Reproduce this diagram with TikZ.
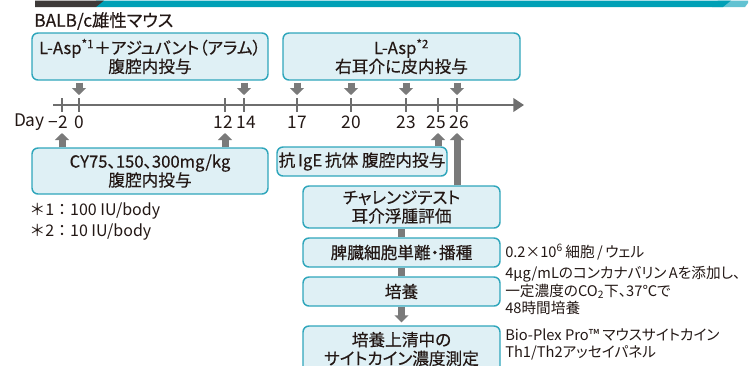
\documentclass[tikz,border=0pt]{standalone}
\usepackage{fontspec}
\setmainfont{Noto Sans CJK JP}[RawFeature=+palt]
\newfontfamily\boxfont{Noto Sans CJK JP}[RawFeature=+palt, FakeBold=0.35]
\newfontfamily\plainfont{Noto Sans CJK JP}
\usetikzlibrary{arrows.meta,calc}
\definecolor{boxfill}{HTML}{DFF0F5}
\definecolor{boxline}{HTML}{2FA6BB}
\definecolor{arr}{HTML}{7A7A7A}
\definecolor{tl}{HTML}{6E6E6E}
\definecolor{txt}{HTML}{231815}
\definecolor{hddark}{HTML}{3E3A39}
\definecolor{hdteal}{HTML}{00A0B6}
\definecolor{hdlight}{HTML}{62C2D2}
\begin{document}
\begin{tikzpicture}[x=0.75pt,y=-0.75pt,
  box/.style={draw=boxline, fill=boxfill, line width=1.1pt, rounded corners=4.5pt, inner sep=0pt, align=center, font=\boxfont\fontsize{12.5}{14}\selectfont, text=txt},
  blk/.style={draw=arr, line width=5.25pt, -{Triangle[width=10.5pt,length=5.25pt]}},
  bar/.style={draw=arr, line width=5.25pt},
  tline/.style={draw=tl, line width=2.2pt, -{Triangle[width=10pt,length=8pt]}},
  tick/.style={draw=tl, line width=1.5pt},
  lbl/.style={inner sep=0pt, text=txt, font=\fontsize{13}{15}\selectfont},
  note/.style={inner sep=0pt, text=txt, anchor=west, align=left, font=\fontsize{11}{13.2}\selectfont}]
\useasboundingbox (0,0) rectangle (750,365);
% header band
\fill[hdlight] (718,0.5) -- (748,0.5) -- (748,3) -- (745,7) -- (712,7) -- cycle;
\fill[hdteal] (96,0.5) -- (731,0.5) -- (723,7) -- (96,7) -- cycle;
\fill[hddark] (35,0.5) -- (104,0.5) -- (96,7) -- (35,7) -- cycle;
% title
\node[lbl, anchor=west] (title) at (34,21) {\boxfont BALB/c雄性マウス};
% top boxes
\node[box, minimum width=177pt, minimum height=35.25pt] (b1) at (150,56.5) {L-Asp\textsuperscript{*1}＋アジュバント（アラム）\\腹腔内投与};
\node[box, minimum width=177.75pt, minimum height=35.25pt] (b2) at (401.5,56.5) {L-Asp\textsuperscript{*2}\\右耳介に皮内投与};
% timeline
\coordinate (tlA) at (53,105);
\coordinate (tlB) at (524,105);
\draw[tline] (tlA) -- (tlB);
\foreach \n/\x in {m2/62,d0/79,d12/225,d14/244,d17/297,d20/351,d23/406,d25/438,d26/457}{
  \coordinate (t\n) at (\x,105);
  \draw[tick] ($(t\n)+(0,-7)$) -- ($(t\n)+(0,7)$);
}
\node[lbl, anchor=east] (dayl) at (45,122) {Day};
\node[lbl, anchor=east] (lm2) at (68,122) {−2};
\foreach \n/\t/\dx in {d0/0/0,d12/12/-2,d14/14/2,d17/17/0,d20/20/0,d23/23/0,d25/25/-2,d26/26/2}{
  \node[lbl] (l\n) at ($(t\n)+(\dx,17)$) {\t};
}
% down arrows
\foreach \n/\b in {d0/b1,d14/b1,d17/b2,d20/b2,d23/b2,d26/b2}{
  \draw[blk] ($(\b.south -| t\n)+(0,2)$) -- ($(t\n)+(0,-10)$);
}
% lower boxes
\node[box, minimum width=177pt, minimum height=34.5pt] (b3) at (150,171) {CY75、150、300mg/kg\\腹腔内投与};
\node[box, minimum width=127.5pt, minimum height=21.75pt] (b4) at (362,161.5) {抗\,IgE\,抗体\ 腹腔内投与};
\node[box, minimum width=147.75pt, minimum height=31.5pt] (b5) at (401.5,207) {チャレンジテスト\\耳介浮腫評価};
\node[box, minimum width=147.75pt, minimum height=21.75pt] (b6) at (401.5,252.5) {脾臓細胞単離・播種};
\node[box, minimum width=147.75pt, minimum height=21.75pt] (b7) at (401.5,291.5) {培養};
\node[box, minimum width=147.75pt, minimum height=34.5pt] (b8) at (401.5,349) {培養上清中の\\サイトカイン濃度測定};
% up arrows
\foreach \n/\b in {m2/b3,d12/b3,d25/b4,d26/b5}{
  \draw[blk] (\b.north -| t\n) -- ($(t\n)+(0,28)$);
}
% flow connectors
\draw[bar] (b5.south) -- (b6.north);
\draw[bar] (b6.south) -- (b7.north);
\draw[blk] (b7.south) -- ($(b8.north)+(0,-3)$);
% footnotes
\node[note, font=\plainfont\fontsize{12}{14}\selectfont] (fn1) at (29,211) {＊1：100 IU/body};
\node[note, font=\plainfont\fontsize{12}{14}\selectfont] (fn2) at (29,232) {＊2：10 IU/body};
% side notes
\node[note] (n6) at (505,252) {0.2×10\textsuperscript{6}\,細胞\,/\,ウェル};
\node[note, anchor=north west] (n7) at (505,266) {4μg/mLのコンカナバリン\,Aを添加し、\\一定濃度のCO\textsubscript{2}下、37℃で\\48時間培養};
\node[note, anchor=north west] (n8) at (505,328) {Bio-Plex Pro™ マウスサイトカイン\\Th1/Th2アッセイパネル};
\end{tikzpicture}
\end{document}
